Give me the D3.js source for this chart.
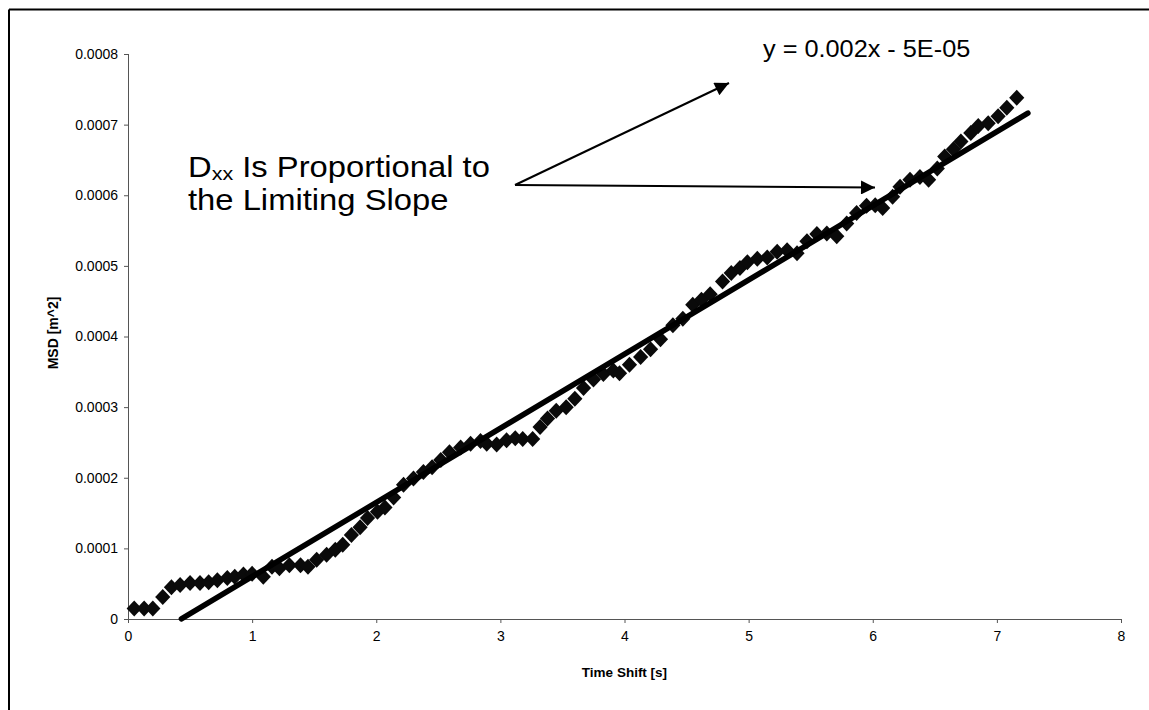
<!DOCTYPE html>
<html>
<head>
<meta charset="utf-8">
<script src="https://cdn.jsdelivr.net/npm/d3@7"></script>
<style>
  html, body { margin: 0; padding: 0; background: #fff; }
  svg { display: block; }
  text { font-family: "Liberation Sans", Arial, Helvetica, sans-serif; fill: #000; }
</style>
</head>
<body>
<div id="chart"></div>
<script>
// ---- data ----
const timeShift = [0.05,0.13,0.20,0.28,0.35,0.42,0.50,0.58,0.65,0.72,0.80,0.86,0.93,1.00,1.09,1.16,1.22,1.30,1.39,1.45,
  1.52,1.60,1.67,1.73,1.80,1.87,1.93,2.01,2.07,2.14,2.22,2.30,2.38,2.45,2.52,2.59,2.68,2.76,2.84,2.89,
  2.97,3.05,3.12,3.18,3.26,3.32,3.38,3.45,3.53,3.60,3.67,3.75,3.83,3.91,3.96,4.04,4.13,4.21,4.29,4.39,
  4.47,4.55,4.62,4.69,4.79,4.86,4.93,4.99,5.07,5.15,5.23,5.31,5.39,5.47,5.55,5.63,5.71,5.79,5.87,5.95,
  6.02,6.08,6.16,6.22,6.30,6.38,6.45,6.52,6.58,6.65,6.71,6.79,6.85,6.93,7.01,7.08,7.16];
const msd = [0.000015,0.000015,0.000015,0.000031,0.000045,0.000048,0.000051,0.000051,0.000052,0.000055,0.000058,0.000060,0.000063,0.000064,0.000060,0.000074,0.000072,0.000076,0.000076,0.000074,
  0.000084,0.000091,0.000098,0.000105,0.000119,0.000130,0.000143,0.000152,0.000158,0.000172,0.000190,0.000199,0.000208,0.000215,0.000225,0.000236,0.000243,0.000248,0.000252,0.000248,
  0.000247,0.000253,0.000256,0.000255,0.000255,0.000272,0.000284,0.000295,0.000300,0.000312,0.000327,0.000339,0.000347,0.000352,0.000348,0.000360,0.000371,0.000382,0.000396,0.000416,
  0.000425,0.000445,0.000452,0.000460,0.000478,0.000490,0.000497,0.000505,0.000510,0.000512,0.000520,0.000522,0.000518,0.000535,0.000545,0.000546,0.000542,0.000560,0.000575,0.000585,
  0.000586,0.000582,0.000598,0.000612,0.000622,0.000626,0.000622,0.000638,0.000655,0.000665,0.000676,0.000688,0.000698,0.000702,0.000712,0.000724,0.000738];

// linear trend line shown in the chart (y = slope * x + intercept), drawn over this x range
const trendSlope = 0.000105;
const trendIntercept = -0.000045;
const trendXRange = [0.43, 7.25];

const xTicks = [0, 1, 2, 3, 4, 5, 6, 7, 8];
const yTicks = [0, 0.0001, 0.0002, 0.0003, 0.0004, 0.0005, 0.0006, 0.0007, 0.0008];
const yTickLabels = ["0", "0.0001", "0.0002", "0.0003", "0.0004", "0.0005", "0.0006", "0.0007", "0.0008"];

const xTitle = "Time Shift [s]";
const yTitle = "MSD [m^2]";
const equationText = "y = 0.002x - 5E-05";

// ---- layout ----
const W = 1149, H = 710;
const plot = { left: 128, right: 1121, top: 54, bottom: 619 };

const svg = d3.select("#chart").append("svg")
  .attr("width", W).attr("height", H);

svg.append("rect").attr("width", W).attr("height", H).attr("fill", "#fff");

// outer frame (left and top edges visible)
svg.append("line").attr("x1", 9).attr("y1", 9.5).attr("x2", W).attr("y2", 9.5)
  .attr("stroke", "#000").attr("stroke-width", 2);
svg.append("line").attr("x1", 9).attr("y1", 9.5).attr("x2", 9).attr("y2", H)
  .attr("stroke", "#000").attr("stroke-width", 2);

const x = d3.scaleLinear().domain([0, 8]).range([plot.left, plot.right]);
const y = d3.scaleLinear().domain([0, 0.0008]).range([plot.bottom, plot.top]);

// axes
const xAxis = d3.axisBottom(x).tickValues(xTicks).tickFormat(d3.format("d")).tickSize(4).tickPadding(8);
const yAxis = d3.axisLeft(y).tickValues(yTicks).tickFormat((d, i) => yTickLabels[i]).tickSize(4).tickPadding(6);

const gx = svg.append("g").attr("transform", `translate(0,${plot.bottom})`).call(xAxis);
const gy = svg.append("g").attr("transform", `translate(${plot.left},0)`).call(yAxis);

[gx, gy].forEach(g => {
  g.select(".domain").attr("stroke", "#555").attr("stroke-width", 1);
  g.selectAll(".tick line").attr("stroke", "#555").attr("stroke-width", 1);
  g.selectAll(".tick text")
    .style("font-family", '"Liberation Sans", Arial, sans-serif')
    .style("font-size", "14px")
    .attr("fill", "#000");
});
gx.select(".domain").attr("d", `M${plot.left},0.5H${plot.right}`);
gy.select(".domain").attr("d", `M0.5,${plot.bottom}V${plot.top}`);

// axis titles
svg.append("text")
  .attr("x", (plot.left + plot.right) / 2).attr("y", 677)
  .attr("text-anchor", "middle")
  .style("font-size", "13.5px").style("font-weight", "bold")
  .text(xTitle);

svg.append("text")
  .attr("transform", "translate(58,333) rotate(-90)")
  .attr("text-anchor", "middle")
  .style("font-size", "14px").style("font-weight", "bold")
  .text(yTitle);

// data points (diamonds)
const pts = d3.zip(timeShift, msd);
const diamond = {
  draw(ctx, size) {
    const hw = 7.6, hh = 8.0;
    ctx.moveTo(0, -hh); ctx.lineTo(hw, 0); ctx.lineTo(0, hh); ctx.lineTo(-hw, 0); ctx.closePath();
  }
};
svg.append("g").selectAll("path").data(pts).join("path")
  .attr("d", d3.symbol().type(diamond).size(100))
  .attr("transform", d => `translate(${x(d[0])},${y(d[1])})`)
  .attr("fill", "#0a0a0a");

// trend line
const trendPts = trendXRange.map(t => [t, trendSlope * t + trendIntercept]);
svg.append("path")
  .datum(trendPts)
  .attr("d", d3.line().x(d => x(d[0])).y(d => y(d[1])))
  .attr("stroke", "#000").attr("stroke-width", 5.5).attr("stroke-linecap", "round")
  .attr("fill", "none");

// equation label
svg.append("text")
  .attr("transform", "translate(763,57) scale(1.1,1)")
  .style("font-size", "23px")
  .text(equationText);

// annotation text
const ann = svg.append("text")
  .attr("transform", "translate(188,177) scale(1.13,1)")
  .style("font-size", "29px");
ann.append("tspan").text("D");
ann.append("tspan").attr("dy", 3).style("font-size", "19px").text("xx");
ann.append("tspan").attr("dy", -3).text(" Is Proportional to");
svg.append("text")
  .attr("transform", "translate(188,210) scale(1.13,1)")
  .style("font-size", "29px")
  .text("the Limiting Slope");

// arrows
const defs = svg.append("defs");
defs.append("marker")
  .attr("id", "arrowHead")
  .attr("viewBox", "0 0 10 10")
  .attr("refX", 10).attr("refY", 5)
  .attr("markerUnits", "userSpaceOnUse")
  .attr("markerWidth", 20).attr("markerHeight", 14)
  .attr("orient", "auto")
  .append("path").attr("d", "M0,0L10,5L0,10Z").attr("fill", "#000");

svg.append("line").attr("x1", 515).attr("y1", 185).attr("x2", 729).attr("y2", 83)
  .attr("stroke", "#000").attr("stroke-width", 2).attr("marker-end", "url(#arrowHead)");
svg.append("line").attr("x1", 515).attr("y1", 185).attr("x2", 875).attr("y2", 187.5)
  .attr("stroke", "#000").attr("stroke-width", 2).attr("marker-end", "url(#arrowHead)");
</script>
</body>
</html>
